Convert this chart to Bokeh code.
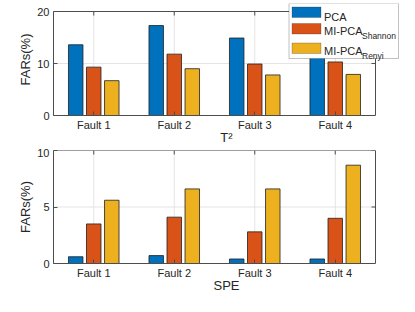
from bokeh.plotting import figure
from bokeh.models import Range1d, FixedTicker, Label, BoxAnnotation, ColumnDataSource
from bokeh.transform import dodge
from bokeh.layouts import column
from bokeh.embed import file_html
from bokeh.resources import INLINE

faults = ["Fault 1", "Fault 2", "Fault 3", "Fault 4"]

t2_pca = [13.6, 17.3, 14.9, 14.6]
t2_shannon = [9.3, 11.8, 9.9, 10.3]
t2_renyi = [6.7, 9.0, 7.8, 7.9]

spe_pca = [0.6, 0.7, 0.4, 0.4]
spe_shannon = [3.5, 4.1, 2.8, 4.0]
spe_renyi = [5.6, 6.6, 6.6, 8.7]

t2_yticks = [0, 10, 20]
spe_yticks = [0, 5, 10]

legend_main = ["PCA", "MI-PCA", "MI-PCA"]
legend_sub = ["", "Shannon", "Renyi"]
colors = ["#0072BD", "#D95319", "#EDB120"]

FONT = "Liberation Sans"
AX = "#4d4d4d"
TXT = "#262626"
GRID = "#e4e4e4"

W = 399
BOX_L, BOX_R = 53, 375       # px of axes box left/right in figure
FRAME_R = W                  # frame extends to the right edge (room for legend)
TICK = 4                     # inner tick length, px


def make_fig(height, frame_top, box_top, box_bottom, yticks, xlabel, series):
    ymax = yticks[-1]
    n = len(faults)
    xs = list(range(1, n + 1))
    x0, x1 = 0.5, n + 0.5
    x_ppu = (BOX_R - BOX_L) / (x1 - x0)
    x_end = x0 + (FRAME_R - BOX_L) / x_ppu
    y_ppu = (box_bottom - box_top) / ymax
    y_end = (box_bottom - frame_top) / y_ppu

    p = figure(width=W, height=height, x_range=Range1d(x0, x_end), y_range=Range1d(0, y_end),
               output_backend="svg", toolbar_location=None,
               min_border_left=BOX_L, min_border_right=W - FRAME_R, min_border_top=frame_top,
               min_border_bottom=height - box_bottom)
    p.outline_line_color = None
    p.xgrid.visible = False
    p.ygrid.visible = False

    p.xaxis.ticker = FixedTicker(ticks=xs)
    p.xaxis.major_label_overrides = {x: f for x, f in zip(xs, faults)}
    p.xaxis.bounds = (x0, x1)
    p.xaxis.axis_label = xlabel
    p.yaxis.ticker = FixedTicker(ticks=yticks)
    p.yaxis.bounds = (0, ymax)
    p.yaxis.axis_label = "FARs(%)"
    for ax in (p.xaxis[0], p.yaxis[0]):
        ax.major_tick_in = TICK
        ax.major_tick_out = 0
        ax.minor_tick_in = 0
        ax.minor_tick_out = 0
        ax.minor_tick_line_color = None
        ax.axis_line_color = AX
        ax.major_tick_line_color = AX
        ax.major_label_text_font = FONT
        ax.major_label_text_font_size = "11px"
        ax.major_label_text_color = TXT
        ax.axis_label_text_font = FONT
        ax.axis_label_text_font_size = "13px"
        ax.axis_label_text_font_style = "normal"
        ax.axis_label_text_color = TXT
    p.xaxis.major_label_standoff = 3
    p.xaxis.axis_label_standoff = -4
    p.yaxis.major_label_standoff = 4
    p.yaxis.axis_label_standoff = 1

    # grid lines (under the bars)
    p.segment(x0=xs, y0=[0] * n, x1=xs, y1=[ymax] * n, line_color=GRID, line_width=1,
              level="underlay")
    p.segment(x0=[x0] * len(yticks), y0=yticks, x1=[x1] * len(yticks), y1=yticks,
              line_color=GRID, line_width=1, level="underlay")

    # top and right sides of the axes box, with inner ticks
    p.segment(x0=[x0, x1], y0=[ymax, 0], x1=[x1, x1], y1=[ymax, ymax], line_color=AX,
              line_width=1)
    p.segment(x0=xs, y0=[ymax] * n, x1=xs, y1=[ymax - TICK / y_ppu] * n, line_color=AX,
              line_width=1)
    p.segment(x0=[x1] * len(yticks), y0=yticks, x1=[x1 - TICK / x_ppu] * len(yticks),
              y1=yticks, line_color=AX, line_width=1)

    src = ColumnDataSource(dict(x=xs, a=series[0], b=series[1], c=series[2]))
    offs = [-0.224, 0.0, 0.224]
    for col, off, c in zip(["a", "b", "c"], offs, colors):
        p.vbar(x=dodge("x", off), top=col, width=0.18, source=src,
               fill_color=c, line_color="#1f1f1f", line_width=0.8)
    return p, box_bottom


top, top_bb = make_fig(148, 3, 11, 115, t2_yticks, "T²", [t2_pca, t2_shannon, t2_renyi])
bot, _ = make_fig(148, 2, 2, 115, spe_yticks, "SPE", [spe_pca, spe_shannon, spe_renyi])

# legend, drawn in the top figure (screen units relative to the frame: x from left, y from bottom)


def sx(px):
    return px - BOX_L


def sy(py):
    return top_bb - py


def sbox(l, r, t, b, **kw):
    return BoxAnnotation(left=sx(l), right=sx(r), top=sy(t), bottom=sy(b),
                         left_units="screen", right_units="screen", top_units="screen",
                         bottom_units="screen", fill_alpha=1, **kw)


top.add_layout(sbox(288.5, 398, 3, 58, fill_color="white", line_color="#333333", line_width=1))
rows = [(6.5, 17, 16.5, None), (23, 33.5, 30.5, 35.5), (42.5, 53, 50, 55.5)]
for (t, b, base, subbase), name, sub, c in zip(rows, legend_main, legend_sub, colors):
    top.add_layout(sbox(291.5, 320.5, t, b, fill_color=c, line_color="#1f1f1f", line_width=0.8))
    top.add_layout(Label(x=sx(323.5), y=sy(base), x_units="screen", y_units="screen",
                         text=name, text_font=FONT, text_font_size="11px", text_color=TXT,
                         text_baseline="alphabetic"))
    if sub:
        top.add_layout(Label(x=sx(361.5), y=sy(subbase), x_units="screen", y_units="screen",
                             text=sub, text_font=FONT, text_font_size="8.5px", text_color=TXT,
                             text_baseline="alphabetic"))

layout = column(top, bot, spacing=0)
open("out.html", "w").write(file_html(layout, INLINE))
